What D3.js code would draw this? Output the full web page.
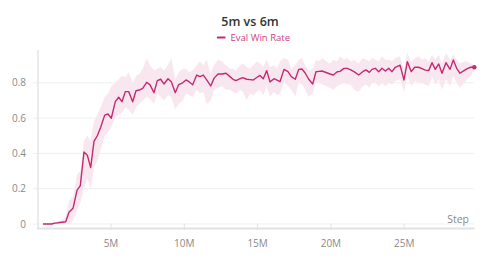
<!DOCTYPE html>
<html><head><meta charset="utf-8">
<script src="https://cdn.jsdelivr.net/npm/d3@7"></script>
<style>
html,body{margin:0;padding:0;background:#fff;}
svg{display:block;font-family:"Open Sans","Noto Sans",sans-serif;}
</style></head>
<body><svg id="c" width="500" height="262"></svg>
<script>
// Steps in millions
const stepsM = [0.362,0.668,0.955,1.180,1.405,1.637,1.910,2.135,2.408,2.681,2.906,3.158,3.383,3.615,3.840,4.066,4.297,4.570,4.795,5.020,5.293,5.525,5.750,5.975,6.207,6.480,6.705,6.930,7.162,7.435,7.660,7.933,8.158,8.390,8.615,8.888,9.113,9.386,9.618,9.891,10.116,10.341,10.573,10.846,11.071,11.296,11.528,11.801,12.026,12.299,12.572,12.844,13.117,13.322,13.527,13.800,13.984,14.257,14.482,14.707,14.939,15.164,15.389,15.621,15.846,16.119,16.323,16.528,16.801,17.074,17.299,17.572,17.804,18.029,18.254,18.486,18.759,18.984,19.189,19.393,19.714,19.939,20.164,20.437,20.621,20.894,21.119,21.351,21.576,21.896,22.169,22.394,22.619,22.804,23.029,23.261,23.486,23.711,23.943,24.168,24.393,24.714,24.987,25.212,25.484,25.716,25.989,26.214,26.439,26.671,26.896,27.121,27.353,27.578,27.851,28.124,28.349,28.581,28.806,29.079,29.304,29.536,29.782];
const winRate = [0,0,0,.005,.007,.01,.013,.066,.089,.19,.217,.408,.39,.32,.468,.50,.548,.617,.623,.599,.693,.718,.693,.75,.75,.693,.755,.759,.769,.803,.788,.744,.812,.82,.793,.823,.806,.744,.79,.80,.816,.805,.789,.844,.835,.844,.816,.782,.825,.85,.85,.854,.835,.82,.812,.823,.829,.82,.818,.816,.83,.842,.823,.869,.805,.823,.815,.806,.876,.863,.835,.82,.876,.878,.854,.82,.793,.863,.865,.867,.857,.85,.844,.863,.865,.882,.882,.873,.863,.844,.863,.873,.859,.876,.882,.863,.882,.867,.882,.863,.888,.90,.816,.92,.863,.888,.888,.88,.872,.869,.914,.876,.907,.854,.914,.876,.929,.882,.854,.869,.88,.888,.888];
const bandLo = [0,0,0,0,0,0,0,0,.02,.08,.12,.20,.26,.20,.32,.36,.42,.50,.52,.55,.60,.62,.63,.66,.65,.62,.66,.68,.70,.72,.71,.68,.74,.72,.70,.73,.72,.65,.68,.70,.74,.73,.72,.76,.74,.75,.68,.70,.76,.77,.78,.76,.76,.75,.74,.76,.75,.70,.74,.73,.75,.76,.73,.78,.72,.75,.73,.74,.80,.78,.76,.72,.80,.79,.76,.72,.74,.80,.80,.79,.78,.77,.76,.78,.79,.80,.79,.79,.76,.75,.78,.79,.77,.80,.80,.78,.80,.78,.80,.79,.81,.82,.75,.84,.78,.81,.80,.80,.79,.78,.84,.79,.82,.76,.82,.78,.84,.80,.77,.80,.82,.84,.87];
const bandHi = [.005,.005,.008,.012,.015,.02,.04,.13,.15,.28,.30,.47,.50,.47,.58,.62,.66,.72,.74,.78,.80,.82,.84,.83,.86,.80,.84,.85,.88,.94,.90,.87,.88,.89,.87,.90,.94,.82,.86,.88,.88,.86,.87,.90,.92,.90,.93,.85,.90,.93,.92,.90,.88,.88,.87,.90,.91,.89,.88,.90,.92,.91,.89,.93,.89,.90,.88,.92,.94,.93,.88,.90,.93,.94,.90,.87,.88,.93,.92,.94,.92,.91,.93,.92,.95,.93,.94,.92,.93,.91,.94,.93,.92,.94,.93,.92,.95,.93,.93,.92,.94,.95,.87,.97,.92,.94,.95,.93,.94,.92,.96,.93,.96,.91,.97,.93,.96,.93,.91,.92,.92,.91,.90];
const yTicks = [0,0.2,0.4,0.6,0.8];
const xTicks = [5,10,15,20,25];
const xTickLabels = ["5M","10M","15M","20M","25M"];
const title = "5m vs 6m";
const seriesName = "Eval Win Rate";

const data = stepsM.map((s,i)=>({s, v:winRate[i], lo:bandLo[i], hi:bandHi[i]}));
const color = "#c42a74";
const svg = d3.select("#c");
const x = d3.scaleLinear().domain([0, 29.782]).range([37.7, 474.3]);
const y = d3.scaleLinear().domain([0, 1]).range([224, 47.5]);

// grid
svg.append("g").selectAll("line").data(yTicks).join("line")
  .attr("x1", 33).attr("x2", 474).attr("y1", d=>y(d)).attr("y2", d=>y(d))
  .attr("stroke", "#efefef").attr("stroke-width", 1);

// y axis labels
svg.append("g").selectAll("text").data(yTicks).join("text")
  .attr("x", 26).attr("y", d=>y(d)+3.5).attr("text-anchor","end")
  .attr("font-size", 10).attr("fill", "#8a8a8a").text(d=>d===0?"0":d3.format(".1f")(d));

// axis lines
svg.append("line").attr("x1",38).attr("x2",38).attr("y1",50).attr("y2",229)
  .attr("stroke","#e4e4e4").attr("stroke-width",1.5);
svg.append("line").attr("x1",37).attr("x2",474.5).attr("y1",228.5).attr("y2",228.5)
  .attr("stroke","#e2e2e2").attr("stroke-width",2);

// x ticks
svg.append("g").selectAll("line").data(xTicks).join("line")
  .attr("x1", d=>x(d)).attr("x2", d=>x(d)).attr("y1", 223.5).attr("y2", 230)
  .attr("stroke", "#e2e2e2").attr("stroke-width", 1);
svg.append("g").selectAll("text").data(xTicks).join("text")
  .attr("x", d=>x(d)).attr("y", 247).attr("text-anchor","middle")
  .attr("font-size", 10).attr("fill", "#8a8a8a").text((d,i)=>xTickLabels[i]);

svg.append("text").attr("x", 469).attr("y", 223).attr("text-anchor","end")
  .attr("font-size", 10.5).attr("fill", "#8a8a8a").text("Step");

// band
svg.append("path").datum(data)
  .attr("d", d3.area().x(d=>x(d.s)).y0(d=>y(Math.max(0,d.lo))).y1(d=>y(d.hi)))
  .attr("fill", "#f9e7ef").attr("stroke","none");

// line
svg.append("path").datum(data)
  .attr("d", d3.line().x(d=>x(d.s)).y(d=>y(d.v)))
  .attr("fill","none").attr("stroke", color).attr("stroke-width",1.4).attr("stroke-linejoin","round");

const last = data[data.length-1];
svg.append("circle").attr("cx", x(last.s)).attr("cy", y(last.v)).attr("r", 2.2).attr("fill", color);

// title
svg.append("text").attr("x", 250).attr("y", 26).attr("text-anchor","middle")
  .attr("font-size", 12.5).attr("font-weight", 600).attr("fill", "#333").text(title);

// legend
svg.append("line").attr("x1",217).attr("x2",225.5).attr("y1",37.5).attr("y2",37.5)
  .attr("stroke", color).attr("stroke-width",2);
svg.append("text").attr("x", 230.5).attr("y", 41).attr("font-size", 9.5)
  .attr("fill", "#cc3f85").text(seriesName);
</script></body></html>
